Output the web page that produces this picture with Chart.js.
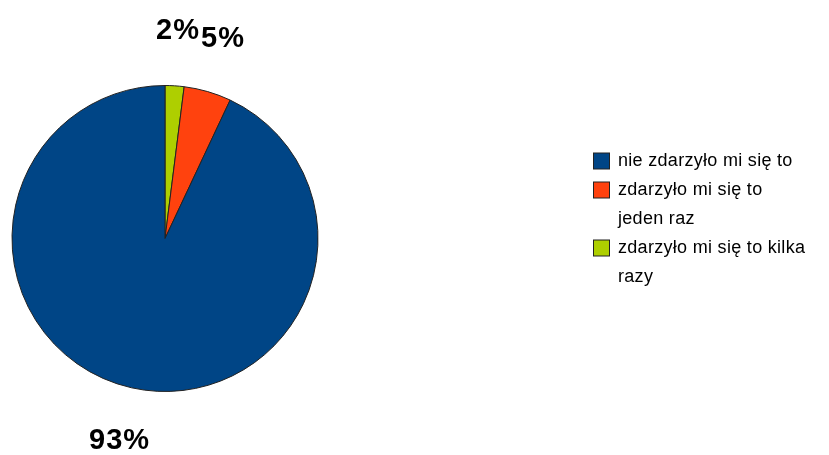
<!DOCTYPE html>
<html>
<head>
<meta charset="utf-8">
<script src="https://cdn.jsdelivr.net/npm/chart.js@4/dist/chart.umd.min.js"></script>
<style>
  html, body { margin: 0; padding: 0; background: #fff; }
  #wrap { width: 829px; height: 455px; }
</style>
</head>
<body>
<div id="wrap"><canvas id="myChart" width="829" height="455"></canvas></div>
<script>
const d = document;
const ctx = d.getElementById('myChart').getContext('2d');

// legend order (top to bottom)
const categories = [
  ['nie zdarzyło mi się to'],
  ['zdarzyło mi się to', 'jeden raz'],
  ['zdarzyło mi się to kilka', 'razy']
];
const values = [93, 5, 2];
const colors = ['#004586', '#ff420e', '#aecf00'];
const pctLabels = ['93%', '5%', '2%'];

// the slices go counter clockwise from the top, so we feed them reversed
const order = [2, 1, 0];

const FONT = '"Liberation Sans", Arial, sans-serif';

const pctPlugin = {
  id: 'pctPlugin',
  afterDraw(chart) {
    const c = chart.ctx;
    const meta = chart.getDatasetMeta(0);
    c.save();
    c.font = 'bold 29px ' + FONT;
    c.letterSpacing = '1px';
    c.fillStyle = '#000';
    c.textAlign = 'center';
    c.textBaseline = 'middle';
    meta.data.forEach((arc, i) => {
      const mid = (arc.startAngle + arc.endAngle) / 2;
      const r = arc.outerRadius + 55;
      const x = arc.x + Math.cos(mid) * r;
      const y = arc.y + Math.sin(mid) * r;
      c.fillText(pctLabels[order[i]], x, y);
    });
    c.restore();
  }
};

const legendPlugin = {
  id: 'legendPlugin',
  afterDraw(chart) {
    const c = chart.ctx;
    c.save();
    c.font = '18px ' + FONT;
    c.letterSpacing = '0.3px';
    c.textBaseline = 'middle';
    c.textAlign = 'left';
    let y = 161;
    const lineH = 29;
    categories.forEach((lines, i) => {
      c.fillStyle = colors[i];
      c.fillRect(593.5, y - 8, 16, 16);
      c.strokeStyle = '#222';
      c.lineWidth = 1;
      c.strokeRect(593.5, y - 8, 16, 16);
      c.fillStyle = '#000';
      lines.forEach((t, j) => {
        c.fillText(t, 618, y + j * lineH);
      });
      y += lines.length * lineH;
    });
    c.restore();
  }
};

const myChart = new Chart(ctx, {
  type: 'pie',
  data: {
    labels: order.map(i => categories[i].join(' ')),
    datasets: [{
      data: order.map(i => values[i]),
      backgroundColor: order.map(i => colors[i]),
      borderColor: '#222',
      borderWidth: 1
    }]
  },
  options: {
    responsive: false,
    animation: false,
    layout: { padding: { left: 11, right: 510, top: 85, bottom: 63 } },
    plugins: {
      legend: { display: false },
      tooltip: { enabled: false }
    }
  },
  plugins: [pctPlugin, legendPlugin]
});
</script>
</body>
</html>
